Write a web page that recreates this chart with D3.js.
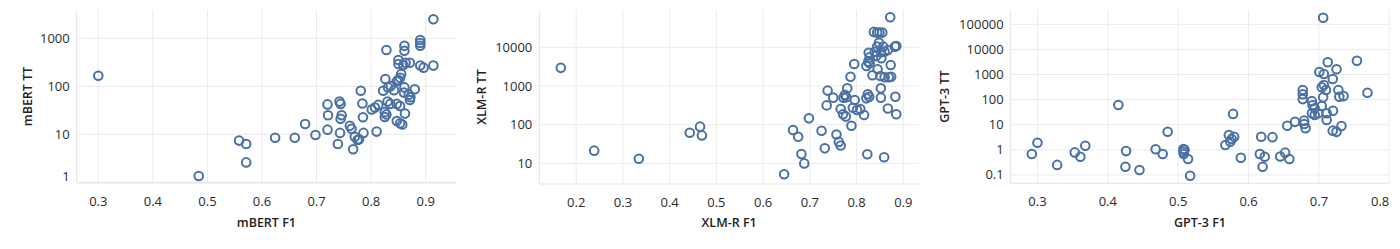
<!DOCTYPE html>
<html>
<head>
<meta charset="utf-8">
<script src="https://cdn.jsdelivr.net/npm/d3@7"></script>
<style>
    html, body { margin: 0; padding: 0; background: #fff; }
    svg { display: block; }
    .tick-label { font-family: "Open Sans", sans-serif; font-size: 13px; fill: #2b2b2b; }
    .axis-title { font-family: "Open Sans", sans-serif; font-size: 12.5px; font-weight: 600; fill: #222; }
</style>
</head>
<body>
<svg id="chart" width="1400" height="249"></svg>
<script>
// [F1, TT] pairs
const mbertPoints = [
    [0.300, 166], [0.484, 1.35], [0.558, 7.4], [0.571, 6.3], [0.571, 2.6], [0.624, 8.5], [0.660, 8.5],
    [0.679, 16.4], [0.698, 9.7], [0.720, 42], [0.721, 25], [0.720, 12.5], [0.742, 48], [0.744, 43],
    [0.746, 25], [0.744, 21], [0.743, 10.7], [0.739, 6.3], [0.761, 15], [0.764, 13], [0.767, 4.9],
    [0.770, 8.9], [0.778, 7.9], [0.775, 7.6], [0.781, 81], [0.784, 44], [0.785, 22.6], [0.786, 10.7],
    [0.801, 33], [0.807, 36], [0.813, 41], [0.810, 11.4], [0.822, 81], [0.831, 95], [0.836, 101],
    [0.826, 142], [0.828, 570], [0.830, 48], [0.835, 43], [0.847, 43], [0.853, 39], [0.825, 29],
    [0.828, 26], [0.825, 23], [0.842, 83], [0.847, 128], [0.850, 135], [0.853, 150], [0.855, 180],
    [0.850, 353], [0.850, 292], [0.859, 278], [0.863, 310], [0.871, 310], [0.861, 700], [0.861, 550],
    [0.861, 95], [0.860, 74], [0.869, 67], [0.872, 59], [0.871, 52], [0.880, 87], [0.862, 27],
    [0.847, 19], [0.853, 17], [0.857, 16], [0.890, 920], [0.890, 800], [0.890, 700], [0.890, 270],
    [0.896, 245], [0.914, 270], [0.914, 2500]
];

const xlmrPoints = [
    [0.167, 2950], [0.2385, 21.4], [0.334, 13.2], [0.443, 62], [0.465, 89], [0.469, 53],
    [0.645, 5.25], [0.664, 73], [0.675, 49], [0.682, 17.4], [0.688, 10], [0.698, 146],
    [0.725, 70], [0.732, 24.5], [0.736, 316], [0.738, 760], [0.750, 500], [0.757, 56], [0.762, 36],
    [0.766, 29], [0.766, 254], [0.771, 186], [0.777, 162], [0.772, 500], [0.775, 590], [0.778, 510],
    [0.780, 870], [0.787, 1740], [0.789, 94], [0.792, 275], [0.795, 3700], [0.796, 435], [0.801, 240],
    [0.808, 255], [0.816, 178], [0.821, 480], [0.824, 615], [0.827, 525], [0.823, 17.2], [0.821, 3300],
    [0.825, 4250], [0.828, 3860], [0.828, 5500], [0.826, 7250], [0.834, 1900], [0.837, 25000],
    [0.839, 7700], [0.842, 6000], [0.844, 10400], [0.844, 24000], [0.845, 2700], [0.848, 13100],
    [0.849, 24000], [0.851, 1820], [0.852, 7400], [0.852, 870], [0.852, 500], [0.853, 5200],
    [0.855, 24000], [0.857, 10400], [0.859, 14.5], [0.860, 7700], [0.860, 1680], [0.867, 8500],
    [0.867, 263], [0.869, 1680], [0.872, 59600], [0.873, 3480], [0.874, 1740], [0.882, 10400],
    [0.883, 530], [0.885, 10800], [0.885, 186]
];

const gpt3Points = [
    [0.292, 0.68], [0.300, 1.92], [0.328, 0.25], [0.353, 0.79], [0.361, 0.53], [0.368, 1.46],
    [0.415, 61], [0.426, 0.89], [0.425, 0.21], [0.445, 0.157], [0.468, 1.05], [0.478, 0.68],
    [0.485, 5.25], [0.5075, 1.07], [0.5075, 0.84], [0.508, 0.68], [0.509, 1.0], [0.514, 0.43],
    [0.517, 0.093], [0.567, 1.55], [0.572, 3.9], [0.574, 2.1], [0.576, 2.7], [0.5795, 3.3],
    [0.578, 27], [0.589, 0.48], [0.618, 3.3], [0.616, 0.68], [0.623, 0.53], [0.620, 0.21],
    [0.634, 3.2], [0.645, 0.54], [0.652, 0.77], [0.658, 0.43], [0.655, 9.1], [0.666, 13],
    [0.677, 240], [0.677, 163], [0.677, 105], [0.679, 14.5], [0.679, 10.7], [0.681, 7.2],
    [0.690, 87], [0.691, 60], [0.694, 45], [0.690, 28.5], [0.694, 24.5], [0.699, 28.5],
    [0.704, 56], [0.704, 310], [0.707, 380], [0.710, 240], [0.706, 123], [0.711, 28.5],
    [0.711, 15.5], [0.7006, 1260], [0.707, 1050], [0.7125, 3100], [0.706, 183000],
    [0.7196, 660], [0.720, 36], [0.7196, 5.8], [0.725, 5.2], [0.725, 1620], [0.7276, 240],
    [0.729, 130], [0.735, 138], [0.732, 8.9], [0.754, 3550], [0.769, 188]
];

const mbertXTicks = [0.3, 0.4, 0.5, 0.6, 0.7, 0.8, 0.9];
const mbertYTicks = [1, 10, 100, 1000];
const xlmrXTicks = [0.2, 0.3, 0.4, 0.5, 0.6, 0.7, 0.8, 0.9];
const xlmrYTicks = [10, 100, 1000, 10000];
const gpt3XTicks = [0.3, 0.4, 0.5, 0.6, 0.7, 0.8];
const gpt3YTicks = [0.1, 1, 10, 100, 1000, 10000, 100000];

const panels = [
    { name: "mBERT", points: mbertPoints, xTicks: mbertXTicks, yTicks: mbertYTicks,
      left: 76.7, right: 456, bottom: 183, xDomain: [0.2604, 0.9555], yDomain: [0.968, 3890], yTitleX: 28 },
    { name: "XLM-R", points: xlmrPoints, xTicks: xlmrXTicks, yTicks: xlmrYTicks,
      left: 539.3, right: 919, bottom: 184, xDomain: [0.121, 0.9336], yDomain: [2.94, 92000], yTitleX: 482 },
    { name: "GPT-3", points: gpt3Points, xTicks: gpt3XTicks, yTicks: gpt3YTicks,
      left: 1010.7, right: 1389.3, bottom: 183.3, xDomain: [0.262, 0.800], yDomain: [0.0463, 372000], yTitleX: 945 }
];

const plotTop = 10;
const gridColor = "#ebebeb";
const markColor = "#4a71a3";

const svg = d3.select("#chart");

panels.forEach(p => {
    const x = d3.scaleLinear().domain(p.xDomain).range([p.left, p.right]);
    const y = d3.scaleLog().domain(p.yDomain).range([p.bottom, plotTop]);
    const g = svg.append("g").attr("class", "panel");

    // grid
    g.selectAll(".vgrid")
        .data(p.xTicks)
        .join("line")
        .attr("x1", d => x(d)).attr("x2", d => x(d))
        .attr("y1", plotTop).attr("y2", p.bottom)
        .attr("stroke", gridColor).attr("stroke-width", 1);

    g.selectAll(".hgrid")
        .data(p.yTicks)
        .join("line")
        .attr("x1", p.left).attr("x2", p.right)
        .attr("y1", d => y(d)).attr("y2", d => y(d))
        .attr("stroke", gridColor).attr("stroke-width", 1);

    // axis lines
    g.append("line")
        .attr("x1", p.left).attr("x2", p.right)
        .attr("y1", p.bottom).attr("y2", p.bottom)
        .attr("stroke", "#e4e4e4");
    g.append("line")
        .attr("x1", p.left).attr("x2", p.left)
        .attr("y1", plotTop).attr("y2", p.bottom)
        .attr("stroke", "#e4e4e4");

    // tick labels, kept inside the plot extent like the original
    g.selectAll(".xlabel")
        .data(p.xTicks)
        .join("text")
        .attr("class", "tick-label")
        .attr("x", d => x(d))
        .attr("y", p.bottom + 23)
        .attr("text-anchor", "middle")
        .text(d => d3.format(".1f")(d))
        .each(function() {
            const b = this.getBBox();
            if (b.x + b.width > p.right) d3.select(this).attr("x", +d3.select(this).attr("x") - (b.x + b.width - p.right));
        });

    g.selectAll(".ylabel")
        .data(p.yTicks)
        .join("text")
        .attr("class", "tick-label")
        .attr("x", p.left - 7)
        .attr("y", d => y(d))
        .attr("dy", "0.35em")
        .attr("text-anchor", "end")
        .text(d => d < 1 ? d3.format(".1f")(d) : d3.format("d")(d))
        .each(function() {
            const b = this.getBBox();
            const over = b.y + b.height - 2 - p.bottom;
            if (over > 0) d3.select(this).attr("y", +d3.select(this).attr("y") - over);
        });

    // axis titles
    g.append("text")
        .attr("class", "axis-title")
        .attr("x", (p.left + p.right) / 2)
        .attr("y", 227)
        .attr("text-anchor", "middle")
        .text(`${p.name} F1`);

    g.append("text")
        .attr("class", "axis-title")
        .attr("transform", `translate(${p.yTitleX + 4},${(plotTop + p.bottom) / 2}) rotate(-90)`)
        .attr("text-anchor", "middle")
        .text(`${p.name} TT`);

    // markers
    g.selectAll(".dot")
        .data(p.points)
        .join("circle")
        .attr("cx", d => x(d[0]))
        .attr("cy", d => y(d[1]))
        .attr("r", 4.3)
        .attr("fill", "none")
        .attr("stroke", markColor)
        .attr("stroke-width", 2);
});
</script>
</body>
</html>
